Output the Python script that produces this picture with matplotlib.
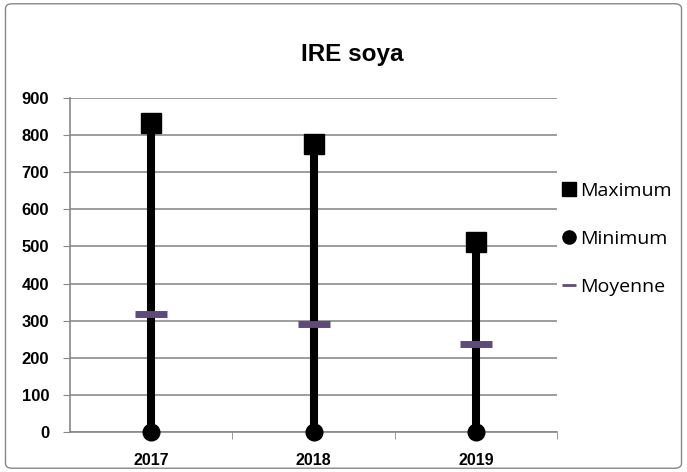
import matplotlib.pyplot as plt
from matplotlib.patches import FancyBboxPatch
from matplotlib.lines import Line2D

years = ["2017", "2018", "2019"]
maximum = [832, 776, 511]
minimum = [0, 0, 0]
moyenne = [317, 290, 236]

plt.rcParams["font.family"] = ["Open Sans", "DejaVu Sans"]
bold_font = ["Liberation Sans", "DejaVu Sans"]

fig = plt.figure(figsize=(6.87, 4.72), dpi=100)
ax = fig.add_axes([0.102, 0.0847, 0.709, 0.7077])

x = list(range(len(years)))
ax.vlines(x, minimum, maximum, color="black", linewidth=5.8, zorder=3)
ax.plot(x, maximum, "s", color="black", markersize=14, linestyle="none", zorder=4)
ax.plot(x, minimum, "o", color="black", markersize=12, linestyle="none", zorder=4, clip_on=False)
ax.plot(x, moyenne, "_", color="#604A7B", markersize=23, markeredgewidth=5, linestyle="none", zorder=5)

ax.set_xlim(-0.5, len(years) - 0.5)
ax.set_ylim(0, 900)
ax.set_yticks(range(0, 901, 100))
ax.set_yticklabels([str(v) for v in range(0, 901, 100)], family=bold_font,
                   fontweight="bold", fontsize=12)
ax.set_xticks(x)
ax.set_xticklabels(years, family=bold_font, fontweight="bold", fontsize=11.5)
ax.set_xticks([0.5, 1.5, 2.5], minor=True)
ax.tick_params(axis="x", which="major", length=0, pad=15)
ax.tick_params(axis="x", which="minor", length=5, color="#888888", direction="out")
ax.tick_params(axis="y", length=5, color="#888888", direction="out", pad=10)
ax.grid(axis="y", color="#8c8c8c", linewidth=1.2)
ax.set_axisbelow(True)
for s in ["top", "right"]:
    ax.spines[s].set_visible(False)
ax.spines["left"].set_color("#888888")
ax.spines["bottom"].set_color("#888888")
ax.spines["left"].set_linewidth(1.2)
ax.spines["bottom"].set_linewidth(1.2)

fig.text(0.513, 0.885, "IRE soya", family=bold_font, fontsize=17.5, fontweight="bold",
         ha="center", va="center")

handles = [
    Line2D([], [], marker="s", color="black", linestyle="none", markersize=10),
    Line2D([], [], marker="o", color="black", linestyle="none", markersize=9.5),
    Line2D([], [], marker="_", color="#604A7B", linestyle="none", markersize=10, markeredgewidth=2),
]
fig.legend(handles, ["Maximum", "Minimum", "Moyenne"], loc="center left",
           bbox_to_anchor=(0.818, 0.494), frameon=False, fontsize=14,
           handlelength=0.7, handletextpad=0.25, labelspacing=1.55,
           borderpad=0, borderaxespad=0)

border = FancyBboxPatch((0.008, 0.008), 0.984, 0.984, boxstyle="round,pad=0,rounding_size=0.01",
                        transform=fig.transFigure, fill=False, edgecolor="#888888", linewidth=1)
fig.patches.append(border)

fig.savefig("out.png", dpi=100)
